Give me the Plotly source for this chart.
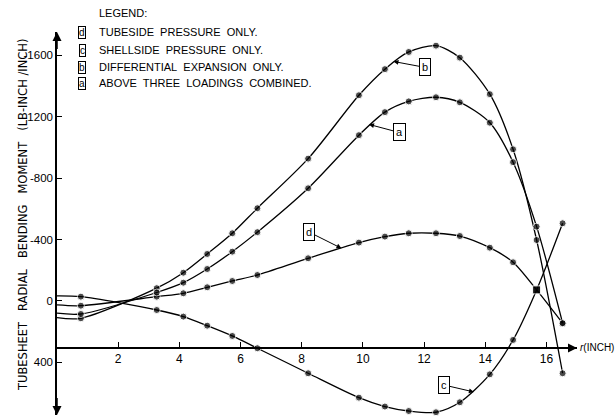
import plotly.graph_objects as go

# radial positions (inch)
r_vals = [0, 0.78, 3.26, 4.13, 4.91, 5.73, 6.55, 8.21, 9.87, 10.72, 11.5, 12.39, 13.17, 14.15, 14.91, 15.68, 16.53]

# bending moment values (lb-inch/inch); positive plotted downward
curve_d = [26, 31, -28, -50, -89, -130, -169, -278, -380, -419, -441, -441, -423, -347, -252, -72, 145]
curve_c = [-33, -28, 59, 102, 161, 228, 308, 471, 630, 688, 717, 725, 660, 478, 254, -72, -506]
curve_b = [109, 113, -83, -184, -306, -441, -604, -927, -1340, -1510, -1622, -1663, -1585, -1347, -988, -397, 471]
curve_a = [80, 85, -55, -119, -208, -321, -448, -734, -1080, -1230, -1300, -1327, -1294, -1161, -904, -484, 145]

y_tick_vals = [-1600, -1200, -800, -400, 0, 400]
y_tick_text = ["-1600", "-1200", "-800", "-400", "0", "400"]
x_tick_vals = [2, 4, 6, 8, 10, 12, 14, 16]
x_tick_text = ["2", "4", "6", "8", "10", "12", "14", "16"]

legend_rows = [
    ("d", "TUBESIDE  PRESSURE  ONLY."),
    ("c", "SHELLSIDE  PRESSURE  ONLY."),
    ("b", "DIFFERENTIAL  EXPANSION  ONLY."),
    ("a", "ABOVE  THREE  LOADINGS  COMBINED."),
]

FONT = "Liberation Sans"
Y_MIN, Y_MAX = 743, -1752   # bottom, top (reversed)
X_MIN, X_MAX = 0, 17.0
X_AXIS_AT = 306

fig = go.Figure()

def add_curve(vals, sq_index=None):
    sizes = [0] + [7] * (len(vals) - 1)
    symbols = ["circle"] * len(vals)
    if sq_index is not None:
        symbols[sq_index] = "square"
        sizes[sq_index] = 8
    fig.add_trace(go.Scatter(
        x=r_vals, y=vals, mode="lines+markers",
        line=dict(color="black", width=1.3, shape="spline", smoothing=0.8),
        marker=dict(color="black", size=sizes, symbol=symbols),
        showlegend=False, cliponaxis=False, hoverinfo="skip"))

add_curve(curve_d, sq_index=15)
add_curve(curve_c, sq_index=15)
add_curve(curve_b)
add_curve(curve_a)

annotations = []
# axis arrows
annotations.append(dict(x=0, y=Y_MAX, ax=0, ay=Y_MAX + 120, xref="x", yref="y", axref="x", ayref="y",
                        text="", showarrow=True, arrowhead=2, arrowsize=1.2, arrowwidth=1.5, arrowcolor="black"))
annotations.append(dict(x=0, y=Y_MIN, ax=0, ay=Y_MIN - 120, xref="x", yref="y", axref="x", ayref="y",
                        text="", showarrow=True, arrowhead=2, arrowsize=1.2, arrowwidth=1.5, arrowcolor="black"))
annotations.append(dict(x=X_MAX, y=X_AXIS_AT, ax=X_MAX - 0.5, ay=X_AXIS_AT, xref="x", yref="y", axref="x", ayref="y",
                        text="", showarrow=True, arrowhead=2, arrowsize=1.2, arrowwidth=1.5, arrowcolor="black"))
annotations.append(dict(x=(578 - 57) / 520.0, y=X_AXIS_AT, xref="paper", yref="y", xanchor="left", yanchor="middle",
                        text="<i>r</i>(INCH)", showarrow=False, font=dict(family=FONT, size=10, color="black")))

# y axis title
sp = "\u00a0" * 3
annotations.append(dict(x=(14 - 57) / 520.0, y=(415 - 215) / 383.0, xref="paper", yref="paper", textangle=-90,
                        text="TUBESHEET" + sp + "RADIAL" + sp + "BENDING" + sp + "MOMENT" + sp + "(LB-INCH\u00a0/INCH)",
                        showarrow=False, font=dict(family="DejaVu Sans", size=11.5, color="black")))

# legend block (pixel positions converted to paper)
def px_to_paper(px, py):
    return (px - 57) / 520.0, (415 - py) / 383.0

lx, ly = px_to_paper(97, 13.5)
annotations.append(dict(x=lx, y=ly, xref="paper", yref="paper", xanchor="left", yanchor="middle",
                        text="LEGEND:", showarrow=False, font=dict(family=FONT, size=11, color="black")))
row_y = [32.5, 50, 67, 83.5]
for (letter, txt), yy in zip(legend_rows, row_y):
    bx, by = px_to_paper(82, yy)
    annotations.append(dict(x=bx, y=by, xref="paper", yref="paper", xanchor="center", yanchor="middle",
                            text=letter, showarrow=False, bordercolor="black", borderwidth=1, borderpad=0,
                            font=dict(family=FONT, size=10, color="black")))
    tx, ty = px_to_paper(97, yy)
    annotations.append(dict(x=tx, y=ty, xref="paper", yref="paper", xanchor="left", yanchor="middle",
                            text=txt.replace("  ", "\u00a0 "), showarrow=False,
                            font=dict(family=FONT, size=11, color="black")))

# curve label boxes with arrows
def label(letter, tip_r, tip_v, ax, ay):
    annotations.append(dict(x=tip_r, y=tip_v, xref="x", yref="y", ax=ax, ay=ay,
                            text=letter, showarrow=True, arrowhead=2, arrowsize=1, arrowwidth=1,
                            arrowcolor="black", bordercolor="black", borderwidth=1, borderpad=2,
                            bgcolor="white", font=dict(family=FONT, size=11, color="black")))

label("b", 11.0, -1560, 32, 6)
label("a", 10.2, -1150, 30, 8)
label("d", 9.30, -343, -32, -16)
label("c", 13.63, 593, -30, -7)

fig.update_layout(
    width=615, height=419,
    margin=dict(l=57, r=38, t=32, b=4, pad=0),
    paper_bgcolor="white", plot_bgcolor="white",
    annotations=annotations,
    xaxis=dict(range=[X_MIN, X_MAX], anchor="free", position=(Y_MIN - X_AXIS_AT) / (Y_MIN - Y_MAX),
               showline=True, linecolor="black", linewidth=1.5, showgrid=False, zeroline=False,
               ticks="inside", ticklen=5, tickwidth=1, tickcolor="black",
               tickvals=x_tick_vals, ticktext=x_tick_text,
               tickfont=dict(family=FONT, size=12, color="black")),
    yaxis=dict(range=[Y_MIN, Y_MAX], showline=True, linecolor="black", linewidth=1.5,
               showgrid=False, zeroline=False, ticks="inside", ticklen=5, tickwidth=1, tickcolor="black",
               tickvals=y_tick_vals, ticktext=y_tick_text,
               tickfont=dict(family=FONT, size=11.5, color="black")),
)

fig.write_html("out.html", config={"displayModeBar": False},
               post_script="document.body.style.margin='0';")
